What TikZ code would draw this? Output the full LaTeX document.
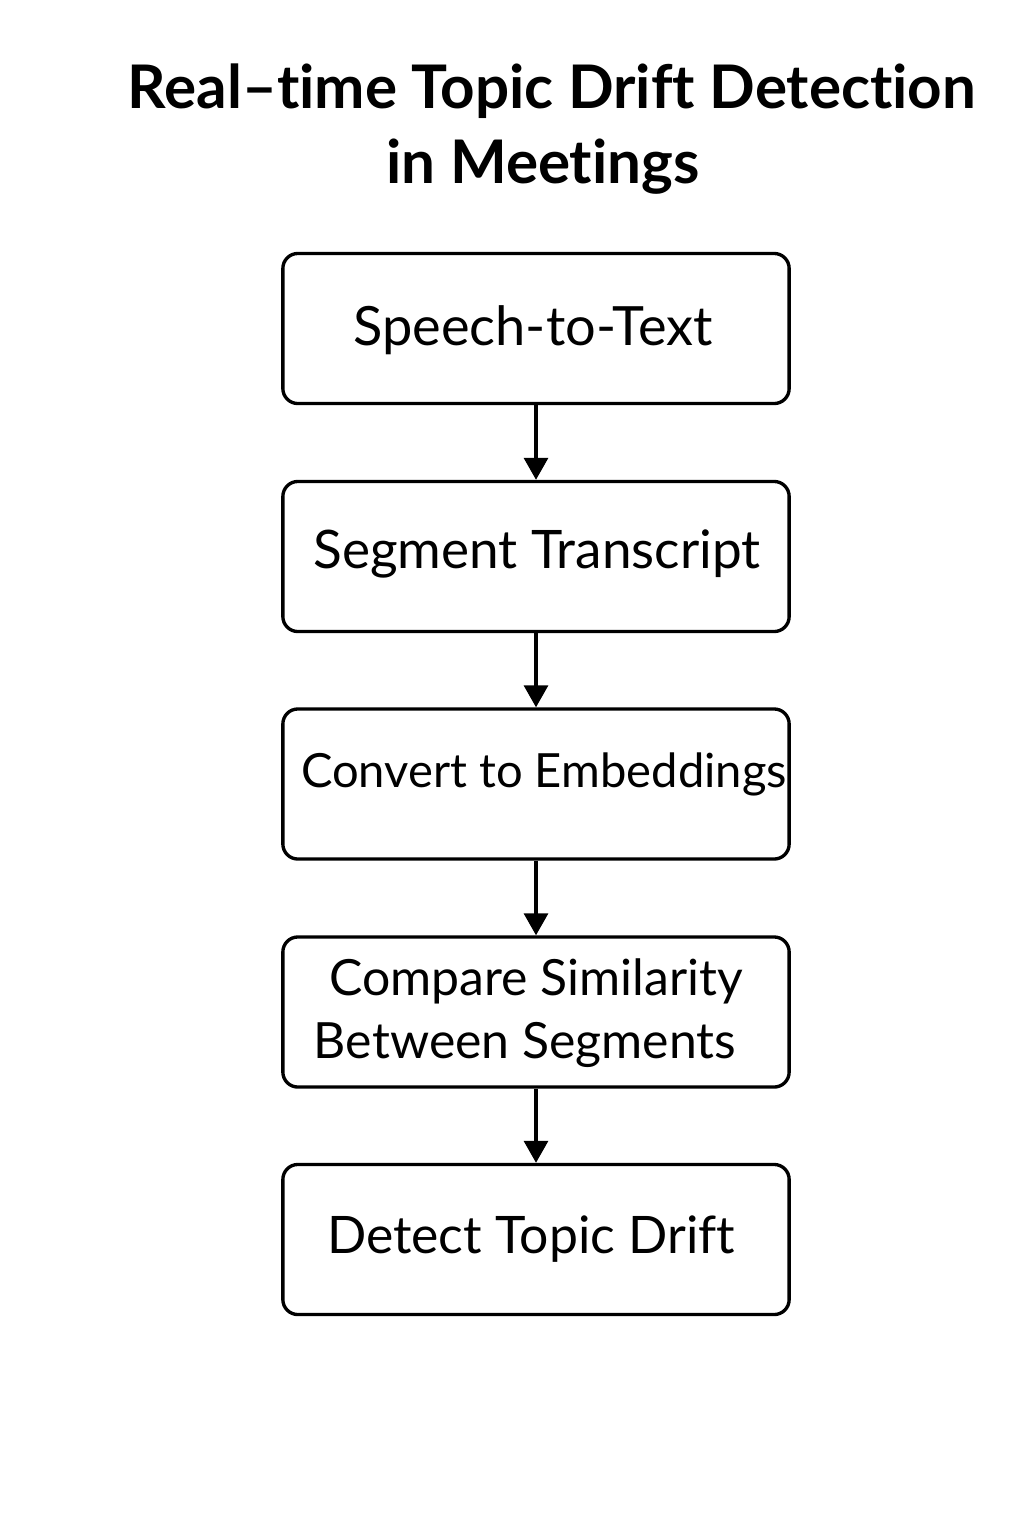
\documentclass[tikz,border=0pt]{standalone}
\usepackage{fontspec}
\setmainfont{Lato}[Ligatures=NoCommon]
\usetikzlibrary{arrows.meta}
\tikzset{
  stepbox/.style={draw=black, line width=0.95pt, rounded corners=0.15cm, minimum width=5.06cm, minimum height=1.5cm, inner sep=0pt},
  boxtext/.style={anchor=base, inner sep=0pt, font=\fontsize{#1}{18}\selectfont},
  boxtext/.default=15,
  titletext/.style={anchor=base, inner sep=0pt, font=\fontsize{17.1}{20}\selectfont\bfseries},
  flow/.style={draw=black, line width=0.95pt, -{Triangle[width=0.24cm, length=0.22cm]}}
}
\begin{document}
\begin{tikzpicture}[x=0.01cm, y=-0.01cm]
\useasboundingbox[fill=white] (0,0) rectangle (1024,1536);
\node[titletext] (title1) at (552,108) {Real–time Topic Drift Detection};
\node[titletext] (title2) at (543,183) {in Meetings};

\node[stepbox] (b1) at (536,328.5) {};
\node[stepbox] (b2) at (536,556.5) {};
\node[stepbox] (b3) at (536,784) {};
\node[stepbox] (b4) at (536,1012) {};
\node[stepbox] (b5) at (536,1239.5) {};

\node[boxtext=15.4] (t1) at (533,345) {Speech-to-Text};
\node[boxtext=15.1] (t2) at (537,568) {Segment Transcript};
\node[boxtext=13.4] (t3) at (544,787) {Convert to Embeddings};
\node[boxtext=14.2] (t4a) at (536,995) {Compare Similarity};
\node[boxtext=14.2] (t4b) at (525,1058) {Between Segments};
\node[boxtext=14.7] (t5) at (531,1253) {Detect Topic Drift};

\draw[flow] (b1.south) -- (b2.north);
\draw[flow] (b2.south) -- (b3.north);
\draw[flow] (b3.south) -- (b4.north);
\draw[flow] (b4.south) -- (b5.north);
\end{tikzpicture}
\end{document}
